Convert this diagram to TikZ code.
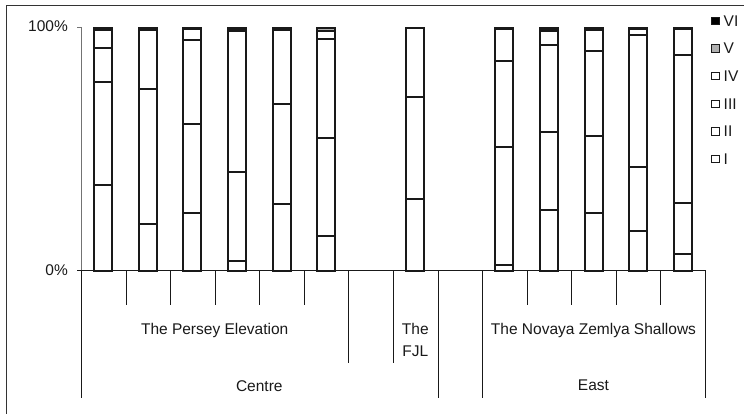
\documentclass[tikz,border=0pt]{standalone}
\usepackage{fontspec}
\setmainfont{Liberation Sans}
\definecolor{vgray}{HTML}{B0B0B0}
\begin{document}
\begin{tikzpicture}[x=1pt,y=-1pt,
  lbl/.style={font=\fontsize{15.5}{18}\selectfont, inner sep=0pt, text=black!90},
  segbox/.style={draw=black!90, line width=1.8pt},
  axisline/.style={draw=black!55, line width=1pt},
  catline/.style={draw=black!90, line width=1pt},
  legsq/.style={draw=black!90, line width=0.9pt, minimum size=7.4pt, inner sep=0pt}]
\useasboundingbox (0,0) rectangle (744,414);
% outer frame
\draw[black!80, line width=1.2pt] (6.5,414) -- (6.5,5.5) -- (744,5.5);
% value axis
\draw[axisline] (77,27.5) -- (81.5,27.5);
\draw[axisline] (81.5,27.5) -- (81.5,270.5);
\node[lbl, anchor=base east] (p100) at (68,31.8) {100\%};
\node[lbl, anchor=base east] (p0) at (68,275.2) {0\%};
% bars: slot / tops of I, II, III, IV, V
\foreach \k/\a/\b/\c/\d/\e in {
  1/35.1/77.7/91.6/98.8/99.7,
  2/19.3/74.8/98.9/98.9/98.9,
  3/23.6/60.1/94.8/99.3/99.3,
  4/4.1/40.7/98.4/99.2/99.2,
  5/27.2/68.6/98.9/99.5/100,
  6/14.0/54.5/95.3/98.6/100,
  8/29.6/71.6/100/100/100,
  10/2.3/51.0/86.1/99.3/99.3,
  11/24.8/56.9/92.9/98.4/99.4,
  12/23.5/55.3/90.5/98.9/100,
  13/16.3/42.4/97.0/99.3/99.3,
  14/6.6/27.9/88.5/99.3/99.3}{
  \pgfmathsetmacro\xl{round(81+(\k-0.5)*44.57-9)}
  \pgfmathsetmacro\xr{\xl+18}
  \foreach \lo/\hi/\col in {0/\a/white,\a/\b/white,\b/\c/white,\c/\d/white,\d/\e/vgray,\e/100/black}{
    \pgfmathtruncatemacro\ok{(\hi>\lo)?1:0}
    \ifnum\ok=1
      \pgfmathsetmacro\ylo{round(270.5-\lo*2.43)}
      \pgfmathsetmacro\yhi{round(270.5-\hi*2.43)}
      \filldraw[segbox, fill=\col] (\xl,\ylo) rectangle (\xr,\yhi);
    \fi
  }
}
% category axis
\draw[catline] (77,270.5) -- (705.5,270.5);
\foreach \j in {1,2,3,4,5,10,11,12,13}{
  \pgfmathsetmacro\xx{round(81+\j*44.57)+0.5}
  \draw[catline] (\xx,270.5) -- (\xx,305);
}
\foreach \j in {6,7}{
  \pgfmathsetmacro\xx{round(81+\j*44.57)+0.5}
  \draw[catline] (\xx,270.5) -- (\xx,363);
}
\foreach \j in {0,8,9,14}{
  \pgfmathsetmacro\xx{round(81+\j*44.57)+0.5}
  \draw[catline] (\xx,270.5) -- (\xx,398);
}
% category labels
\node[lbl, anchor=base] (persey) at (214.7,334.5) {The Persey Elevation};
\node[lbl, anchor=base] (fjlA) at (415.3,334.5) {The};
\node[lbl, anchor=base] (fjlB) at (415.3,356.3) {FJL};
\node[lbl, anchor=base] (novaya) at (593.5,334.5) {The Novaya Zemlya Shallows};
\node[lbl, anchor=base] (centre) at (259.3,391.4) {Centre};
\node[lbl, anchor=base] (east) at (593.5,390.6) {East};
% legend
\foreach \n/\t/\yy/\col in {sVI/VI/20.7/black, sV/V/48.4/vgray, sIV/IV/76.1/white, sIII/III/103.8/white, sII/II/131.5/white, sI/I/159.2/white}{
  \node[legsq, fill=\col] (\n) at (715.5,\yy) {};
  \node[lbl, anchor=base west] (t\n) at (723.5,{\yy+5.4}) {\t};
}
\end{tikzpicture}
\end{document}
